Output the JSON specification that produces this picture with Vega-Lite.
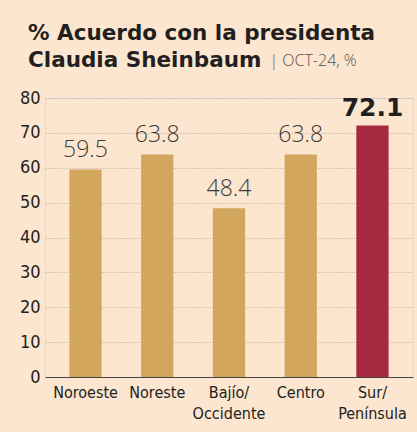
{
  "$schema": "https://vega.github.io/schema/vega-lite/v6.json",
  "width": 368,
  "height": 279,
  "autosize": "none",
  "padding": {"left": 45, "top": 98, "right": 4, "bottom": 55},
  "background": "#fce6cf",
  "title": {
    "text": ["% Acuerdo con la presidenta", "Claudia Sheinbaum"],
    "anchor": "start",
    "frame": "group",
    "dx": -17,
    "offset": -19,
    "font": "DejaVu Sans",
    "fontWeight": "bold",
    "fontSize": 21.5,
    "lineHeight": 27,
    "color": "#231f20"
  },
  "data": {
    "values": [
      {"region": "Noroeste", "pct": 59.5, "tipo": "regular"},
      {"region": "Noreste", "pct": 63.8, "tipo": "regular"},
      {"region": "Bajío/Occidente", "pct": 48.4, "tipo": "regular"},
      {"region": "Centro", "pct": 63.8, "tipo": "regular"},
      {"region": "Sur/Península", "pct": 72.1, "tipo": "destacado"}
    ]
  },
  "encoding": {
    "x": {
      "field": "region",
      "type": "nominal",
      "sort": null,
      "scale": {"paddingInner": 0.55, "paddingOuter": 0.34},
      "axis": {
        "title": null,
        "labelAngle": 0,
        "ticks": false,
        "domainColor": "#444444",
        "domainWidth": 1.2,
        "labelFont": "Liberation Sans Narrow, DejaVu Sans Condensed, sans-serif",
        "labelFontSize": 16,
        "labelColor": "#222222",
        "labelPadding": 7,
        "labelBaseline": "top",
        "labelLineHeight": 21,
        "labelExpr": "indexof(datum.label, '/') > 0 ? [slice(datum.label, 0, indexof(datum.label, '/') + 1), slice(datum.label, indexof(datum.label, '/') + 1)] : datum.label"
      }
    },
    "y": {
      "field": "pct",
      "type": "quantitative",
      "scale": {"domain": [0, 80]},
      "axis": {
        "title": "| OCT-24, %",
        "titleAngle": 0,
        "titleX": 224,
        "titleY": -33,
        "titleAlign": "left",
        "titleBaseline": "alphabetic",
        "titleFont": "Open Sans",
        "titleFontWeight": 300,
        "titleFontSize": 16,
        "titleColor": "#555555",
        "domain": false,
        "ticks": false,
        "values": [0, 10, 20, 30, 40, 50, 60, 70, 80],
        "grid": true,
        "gridColor": "#9a9a9a",
        "gridDash": [1, 2],
        "gridWidth": 0.8,
        "labelFont": "Liberation Sans Narrow, DejaVu Sans Condensed, sans-serif",
        "labelFontSize": 18,
        "labelColor": "#222222",
        "labelPadding": 5
      }
    }
  },
  "layer": [
    {
      "mark": {"type": "bar"},
      "encoding": {
        "color": {
          "field": "tipo",
          "type": "nominal",
          "scale": {"domain": ["regular", "destacado"], "range": ["#d3a65e", "#a52a40"]},
          "legend": null
        }
      }
    },
    {
      "transform": [{"filter": "datum.tipo === 'regular'"}],
      "mark": {"type": "text", "dy": -12, "baseline": "alphabetic", "font": "Open Sans", "fontWeight": 300, "fontSize": 23, "color": "#3a3a3a"},
      "encoding": {"text": {"field": "pct", "type": "quantitative", "format": ".1f"}}
    },
    {
      "transform": [{"filter": "datum.tipo === 'destacado'"}],
      "mark": {"type": "text", "dy": -10, "baseline": "alphabetic", "font": "DejaVu Sans", "fontWeight": "bold", "fontSize": 25, "color": "#231f20"},
      "encoding": {"text": {"field": "pct", "type": "quantitative", "format": ".1f"}}
    }
  ]
}
